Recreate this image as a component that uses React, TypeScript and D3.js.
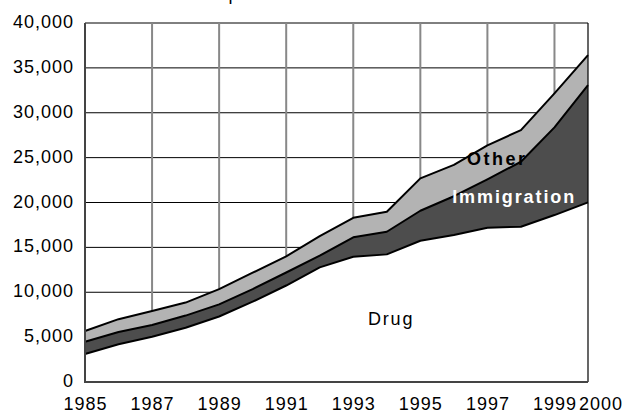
import React from 'react';
import * as d3 from 'd3';

const width = 632;
const height = 412;
const margin = { top: 23, right: 44, bottom: 30, left: 85 };

// values, per year
const years = [1985, 1986, 1987, 1988, 1989, 1990, 1991, 1992, 1993, 1994, 1995, 1996, 1997, 1998, 1999, 2000];
const drug = [3120, 4200, 5050, 6050, 7300, 8950, 10750, 12770, 13960, 14220, 15740, 16380, 17190, 17300, 18600, 20020];
const immigration = [1370, 1380, 1300, 1350, 1350, 1400, 1450, 1300, 2160, 2520, 3340, 4320, 5390, 7240, 9770, 13070];
const other = [1190, 1420, 1560, 1450, 1700, 1830, 1800, 2190, 2180, 2230, 3610, 3500, 3790, 3530, 3790, 3340];

const keys = ['drug', 'immigration', 'other'];
const fills = { drug: '#ffffff', immigration: '#4d4d4d', other: '#b3b3b3' };

const yTicks = [0, 5000, 10000, 15000, 20000, 25000, 30000, 35000, 40000];
const xTicks = [1985, 1987, 1989, 1991, 1993, 1995, 1997, 1999];
const xLast = 2000;

const font = '"Liberation Sans", Arial, sans-serif';

export default function App() {
  const x = d3.scaleLinear().domain([1985, 2000]).range([margin.left, width - margin.right]);
  const y = d3.scaleLinear().domain([0, 40000]).range([height - margin.bottom, margin.top]);

  const rows = years.map((yr, i) => ({ year: yr, drug: drug[i], immigration: immigration[i], other: other[i] }));
  const series = d3.stack().keys(keys)(rows as any);

  const area = d3.area<any>()
    .x((d) => x(d.data.year))
    .y0((d) => y(d[0]))
    .y1((d) => y(d[1]));
  const line = d3.line<any>()
    .x((d) => x(d.data.year))
    .y((d) => y(d[1]));

  const fmt = d3.format(',');
  const x0 = x.range()[0];
  const x1 = x.range()[1];
  const yb = y(0);
  const yt = y(40000);

  return (
    <svg width={width} height={height} style={{ position: 'absolute', left: 0, top: 0 }} fontFamily={font}>
      <rect width={width} height={height} fill="#fff" />
      <text x={228.5} y={-0.5} fontSize={18} fill="#000">p</text>

      {/* grid */}
      {yTicks.filter((t) => t > 0).map((t) => (
        <line key={'h' + t} x1={x0} x2={x1} y1={y(t)} y2={y(t)} stroke="#000" strokeWidth={1} />
      ))}
      {xTicks.filter((t) => t > 1985).map((t) => (
        <line key={'v' + t} x1={x(t)} x2={x(t)} y1={yt} y2={yb} stroke="#888" strokeWidth={2} />
      ))}

      {/* stacked areas */}
      {series.map((s) => (
        <path key={s.key} d={area(s as any) || ''} fill={(fills as any)[s.key]} />
      ))}
      {series.map((s) => (
        <path key={'l' + s.key} d={line(s as any) || ''} fill="none" stroke="#000" strokeWidth={2} strokeLinejoin="round" />
      ))}

      {/* frame */}
      <line x1={x1} x2={x1} y1={yt} y2={yb} stroke="#000" strokeWidth={1.2} />
      <line x1={x0} x2={x0} y1={yt} y2={yb + 1} stroke="#444" strokeWidth={2} />
      <line x1={x0 - 1} x2={x1} y1={yb} y2={yb} stroke="#444" strokeWidth={2} />

      {/* y axis labels */}
      {yTicks.map((t) => (
        <text key={'yl' + t} x={x0 - 11} y={y(t) + 5} textAnchor="end" fontSize={18} letterSpacing={1} fill="#000">
          {fmt(t)}
        </text>
      ))}

      {/* x axis labels */}
      {xTicks.map((t) => (
        <text key={'xl' + t} x={x(t) + 0.5} y={yb + 28} textAnchor="middle" fontSize={18} letterSpacing={1} fill="#000">
          {t}
        </text>
      ))}
      <text x={x(xLast) - 9} y={yb + 28} textAnchor="start" fontSize={18} letterSpacing={1} fill="#000">
        {xLast}
      </text>

      {/* series labels */}
      <text x={x(1996.39)} y={y(24180)} fontSize={18} fontWeight="bold" letterSpacing={2.5} fill="#000">Other</text>
      <text x={x(1995.95)} y={y(19945)} fontSize={18} fontWeight="bold" letterSpacing={1.9} fill="#fff">Immigration</text>
      <text x={x(1993.44)} y={y(6350)} fontSize={18} letterSpacing={1.8} fill="#000">Drug</text>
    </svg>
  );
}
